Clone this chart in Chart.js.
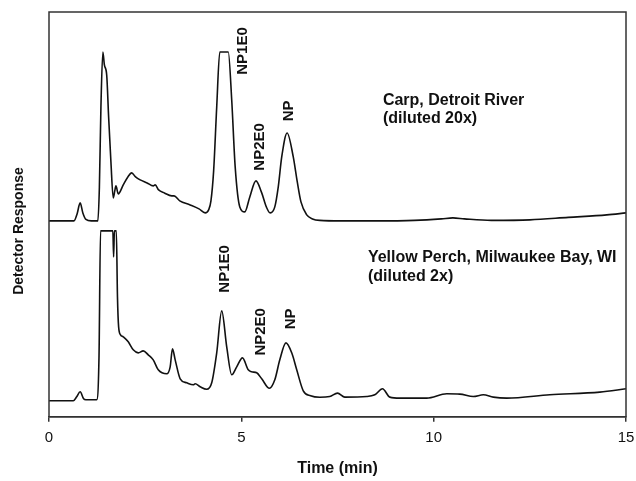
<!DOCTYPE html>
<html>
<head>
<meta charset="utf-8">
<script src="https://cdn.jsdelivr.net/npm/chart.js@4.4.1/dist/chart.umd.min.js"></script>
<style>
  html, body { margin: 0; padding: 0; background: #fff; }
  #wrap { width: 636px; height: 481px; }
</style>
</head>
<body>
<div id="wrap"><canvas id="chromatogram" width="636" height="481"></canvas></div>
<script>
// time axis ticks (min)
const timeTicks = [0, 5, 10, 15];

// Carp, Detroit River (diluted 20x) - upper trace
const carpTime = [0, 0.65, 0.73, 0.81, 0.88, 0.96, 1.10, 1.27, 1.31, 1.35,
  1.40, 1.44, 1.50, 1.55, 1.61, 1.67, 1.71, 1.74, 1.80, 1.93,
  2.05, 2.15, 2.25, 2.37, 2.55, 2.71, 2.76, 2.85, 3.00, 3.19,
  3.25, 3.40, 3.67, 3.90, 4.06, 4.15, 4.21, 4.28, 4.36, 4.44,
  4.66, 4.75, 4.84, 4.96, 5.09, 5.22, 5.38, 5.53, 5.65, 5.75,
  5.87, 5.96, 6.05, 6.19, 6.35, 6.45, 6.55, 6.70, 6.85, 7.04,
  7.60, 8.50, 9.50, 10.20, 10.50, 10.80, 11.50, 12.50, 13.50, 14.50,
  15.00];
const carpResponse = [196, 196, 203, 214, 204, 197.5, 196, 196, 230, 310,
  365, 352, 342, 300, 255, 219, 226, 231, 223, 232,
  240, 244, 240, 237, 234, 231, 232, 227, 224, 221,
  221, 216, 212, 208, 204, 207, 216, 246, 310, 365,
  365, 317, 250, 210, 205, 220, 236, 224, 210, 204,
  210, 230, 260, 284, 260, 236, 215, 202, 198, 196.5,
  196, 196, 196.5, 198, 199, 198, 196.5, 197, 199.5, 202,
  204];

// Yellow Perch, Milwaukee Bay, WI (diluted 2x) - lower trace
const perchTime = [0, 0.63, 0.72, 0.81, 0.90, 0.96, 1.24, 1.30, 1.34, 1.66,
  1.68, 1.70, 1.75, 1.78, 1.81, 1.86, 1.93, 2.06, 2.19, 2.32,
  2.45, 2.58, 2.71, 2.84, 3.06, 3.15, 3.21, 3.28, 3.41, 3.58,
  3.75, 3.80, 3.93, 4.10, 4.23, 4.36, 4.49, 4.62, 4.75, 4.88,
  5.03, 5.18, 5.27, 5.40, 5.53, 5.73, 5.87, 6.00, 6.16, 6.31,
  6.44, 6.61, 6.80, 7.04, 7.30, 7.50, 7.69, 8.26, 8.47, 8.67,
  8.86, 9.12, 9.82, 10.34, 10.68, 11.03, 11.29, 11.55, 11.90, 13.02,
  14.32, 15.00];
const perchResponse = [16, 16, 20, 25, 18, 17, 17, 60, 186, 186,
  160, 186, 186, 120, 90, 82, 80, 75, 67, 64,
  66, 62, 57, 47, 43, 50, 68, 57, 38, 34,
  32, 33, 30, 27.5, 34, 64, 106, 70, 42, 50,
  59, 47, 45, 44, 38, 28.5, 37, 57, 74, 64,
  47, 26, 21, 19.5, 20.3, 23.7, 19.7, 20.3, 22, 28,
  19.7, 18.7, 18.7, 23, 22.7, 20.3, 22, 19.7, 18.7, 22,
  24.7, 28];

const peakNames = ['NP1E0', 'NP2E0', 'NP'];
const carpCaption = ['Carp, Detroit River', '(diluted 20x)'];
const perchCaption = ['Yellow Perch, Milwaukee Bay, WI', '(diluted 2x)'];

// where the labels sit, in (time, response) units
const carpPeakAt = [[5.03, 366], [5.48, 270], [6.24, 306]];
const perchPeakAt = [[4.57, 148], [5.52, 85], [6.29, 98]];
const carpCaptionAt = [[8.68, 316], [8.68, 298.5]];
const perchCaptionAt = [[8.29, 159.5], [8.29, 140]];

const FONT = "'Liberation Sans', Arial, sans-serif";
Chart.defaults.font.family = FONT;
Chart.defaults.color = '#111';

function toPoints(xs, ys) {
  return xs.map((x, i) => ({ x: x, y: ys[i] }));
}

const labelPlugin = {
  id: 'chromLabels',
  afterDatasetsDraw(chart) {
    const ctx = chart.ctx;
    const xs = chart.scales.x, ys = chart.scales.y;
    const area = chart.chartArea;
    ctx.save();

    // frame round the plot
    ctx.strokeStyle = '#333';
    ctx.lineWidth = 1.5;
    ctx.strokeRect(area.left, area.top, area.right - area.left, area.bottom - area.top);

    ctx.fillStyle = '#111';
    // peak names, rotated
    ctx.font = 'bold 15px ' + FONT;
    ctx.textAlign = 'center';
    ctx.textBaseline = 'middle';
    [carpPeakAt, perchPeakAt].forEach(list => {
      list.forEach((p, i) => {
        ctx.save();
        ctx.translate(xs.getPixelForValue(p[0]), ys.getPixelForValue(p[1]));
        ctx.rotate(-Math.PI / 2);
        ctx.fillText(peakNames[i], 0, 0);
        ctx.restore();
      });
    });

    // sample captions
    ctx.font = 'bold 16px ' + FONT;
    ctx.textAlign = 'left';
    carpCaption.forEach((t, i) => {
      ctx.fillText(t, xs.getPixelForValue(carpCaptionAt[i][0]), ys.getPixelForValue(carpCaptionAt[i][1]));
    });
    perchCaption.forEach((t, i) => {
      ctx.fillText(t, xs.getPixelForValue(perchCaptionAt[i][0]), ys.getPixelForValue(perchCaptionAt[i][1]));
    });

    // y axis title
    ctx.font = 'bold 14px ' + FONT;
    ctx.textAlign = 'center';
    ctx.translate(19, 231);
    ctx.rotate(-Math.PI / 2);
    ctx.fillText('Detector Response', 0, 0);
    ctx.restore();
  }
};

const lineStyle = {
  borderColor: '#111',
  borderWidth: 1.6,
  pointRadius: 0,
  fill: false,
  cubicInterpolationMode: 'monotone'
};

new Chart(document.getElementById('chromatogram'), {
  type: 'line',
  data: {
    datasets: [
      Object.assign({ label: 'Carp, Detroit River', data: toPoints(carpTime, carpResponse) }, lineStyle),
      Object.assign({ label: 'Yellow Perch, Milwaukee Bay, WI', data: toPoints(perchTime, perchResponse) }, lineStyle)
    ]
  },
  options: {
    responsive: false,
    animation: false,
    layout: { padding: { left: 49, right: 10, top: 12, bottom: 0 } },
    plugins: {
      legend: { display: false },
      tooltip: { enabled: false }
    },
    scales: {
      x: {
        type: 'linear',
        min: 0,
        max: 15,
        afterBuildTicks: axis => { axis.ticks = timeTicks.map(v => ({ value: v })); },
        // the "15" label may hang past the frame like in the original
        afterFit: axis => { axis.paddingRight = 0; },
        grid: { drawOnChartArea: false, drawTicks: true, tickLength: 5, color: '#333', lineWidth: 1.5 },
        border: { display: true, color: '#333', width: 1.5 },
        ticks: { padding: 7, maxRotation: 0, font: { size: 15 }, color: '#111' },
        title: {
          display: true,
          text: 'Time (min)',
          font: { size: 16, weight: 'bold' },
          color: '#111',
          padding: { top: 5, bottom: 3 }
        }
      },
      y: {
        display: false,
        min: 0,
        max: 405
      }
    }
  },
  plugins: [labelPlugin]
});
</script>
</body>
</html>
